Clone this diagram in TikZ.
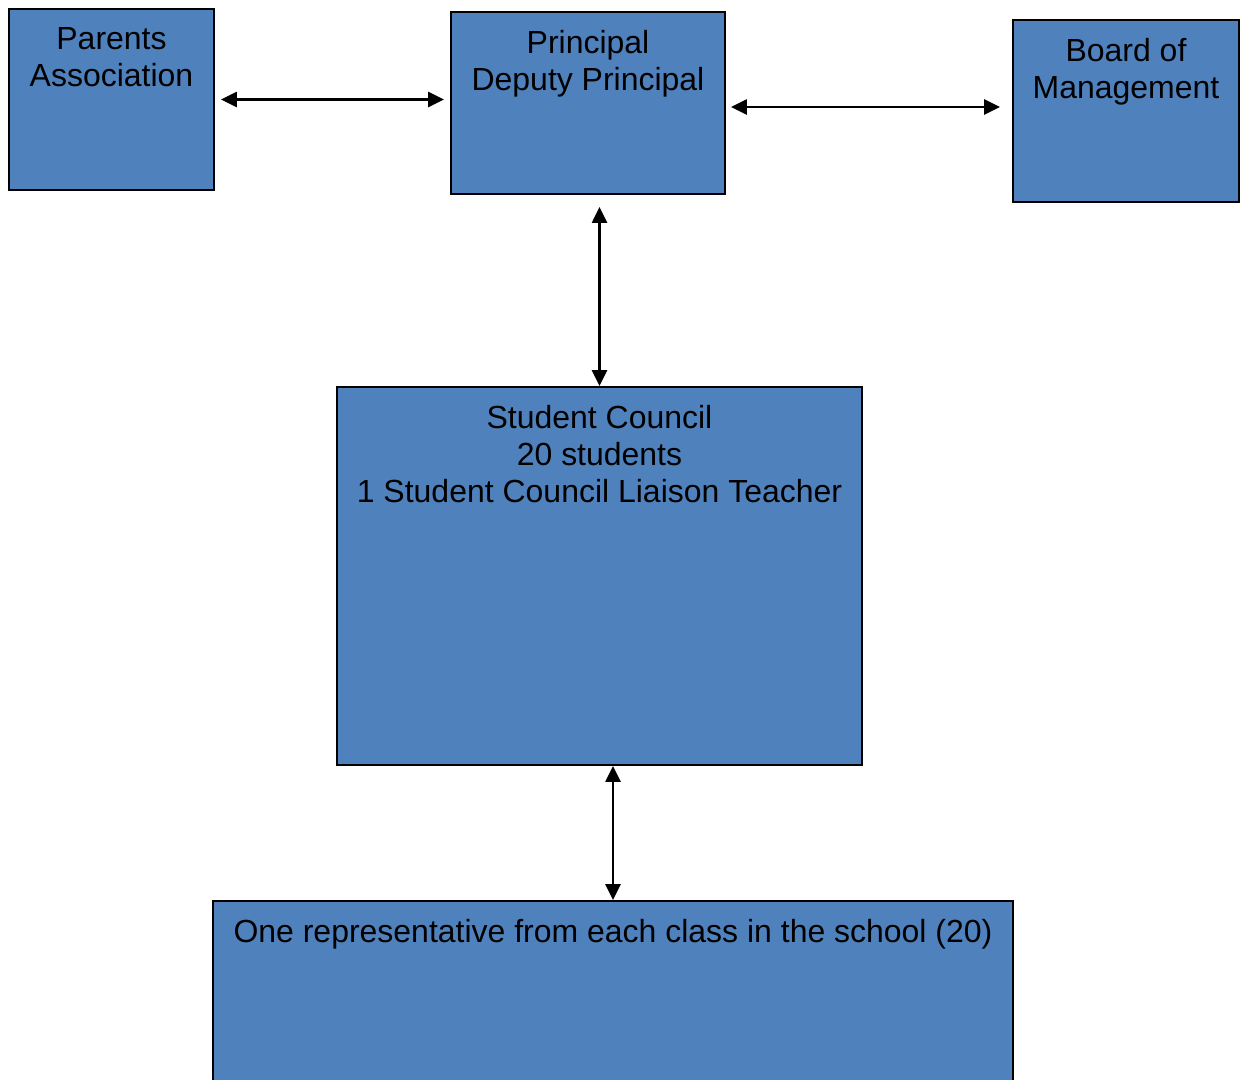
\documentclass[tikz,border=0pt]{standalone}
\usepackage{fontspec}
\setmainfont{Liberation Sans}
\usetikzlibrary{arrows.meta}
\definecolor{boxblue}{HTML}{4F81BD}

\tikzset{
  box/.style={draw=black, line width=1.1pt, fill=boxblue, inner sep=0pt},
  boxtext/.style={anchor=north, align=center, inner sep=0pt,
    font=\fontsize{18.2}{21}\selectfont},
  link/.style={line width=1.4pt, {Triangle[length=0.32cm,width=0.3cm]}-{Triangle[length=0.32cm,width=0.3cm]}}
}

\begin{document}
\begin{tikzpicture}[x=0.02cm,y=-0.02cm]
  \useasboundingbox (0,0) rectangle (1241,1079);
  % boxes
  \node[box, minimum width=4.1cm, minimum height=3.62cm] (parents) at (111.5,99.5) {};
  \node[box, minimum width=5.48cm, minimum height=3.64cm] (principal) at (588,103) {};
  \node[box, minimum width=4.52cm, minimum height=3.64cm] (board) at (1126,111) {};
  \node[box, minimum width=10.5cm, minimum height=7.56cm] (council) at (599.5,576) {};
  \node[box, minimum width=16cm, minimum height=4.4cm] (rep) at (613,1011) {};
  % texts
  \node[boxtext] (parentstxt) at ([yshift=-0.38cm]parents.north) {Parents\\Association};
  \node[boxtext] (principaltxt) at ([yshift=-0.38cm]principal.north) {Principal\\Deputy Principal};
  \node[boxtext] (boardtxt) at ([yshift=-0.38cm]board.north) {Board of\\Management};
  \node[boxtext] (counciltxt) at ([yshift=-0.38cm]council.north) {Student Council\\20 students\\1 Student Council Liaison Teacher};
  \node[boxtext] (reptxt) at ([yshift=-0.38cm]rep.north) {One representative from each class in the school (20)};
  % links
  \draw[link] ([xshift=0.12cm]parents.east) -- ([xshift=-0.12cm]parents.east -| principal.west);
  \draw[link] ([xshift=0.1cm,yshift=-0.08cm]principal.east) -- ([xshift=-0.24cm,yshift=-0.08cm]principal.east -| board.west);
  \draw[link] ([yshift=-0.24cm]principal.south -| council.north) -- (council.north);
  \draw[link] (council.south -| rep.north) -- (rep.north);
\end{tikzpicture}
\end{document}
